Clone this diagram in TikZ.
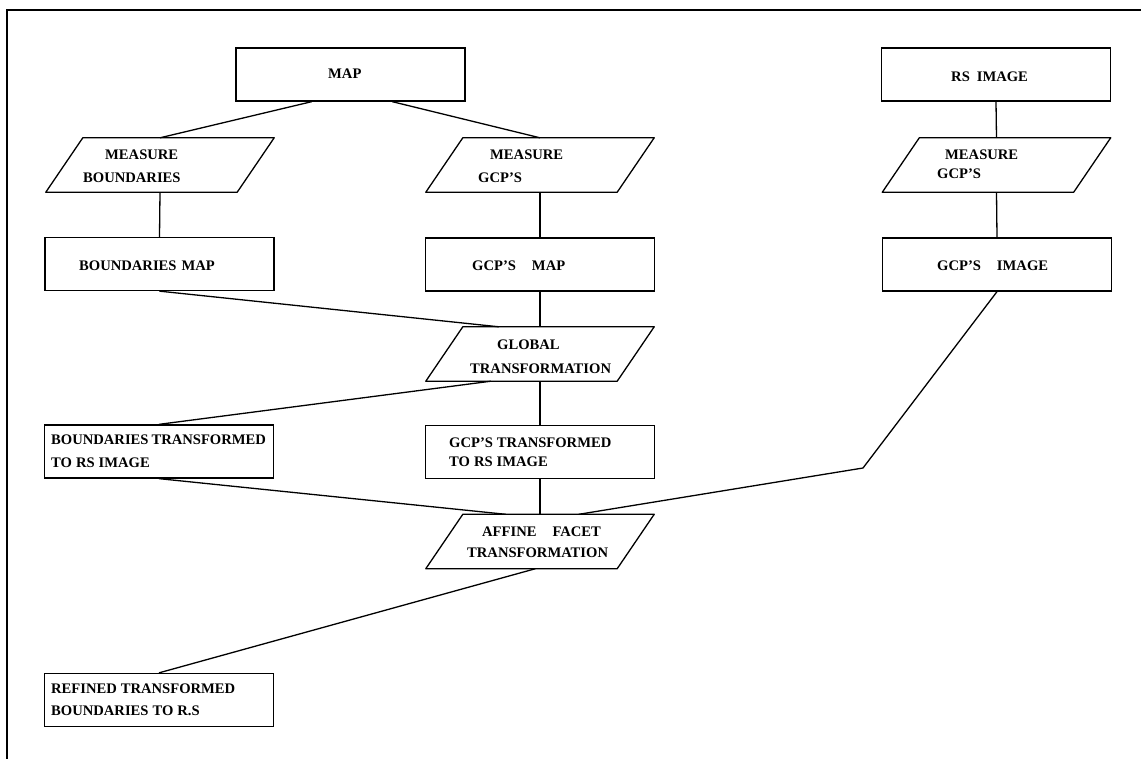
\documentclass[tikz,border=0pt]{standalone}
\usepackage{fontspec}
\setmainfont{Liberation Serif}
\usetikzlibrary{calc}
\tikzset{
  ln/.style={line width=1.3pt, line join=round},
  box/.style={draw, line width=1.3pt, minimum width=229pt, minimum height=53pt, inner sep=0pt},
  pbox/.style={minimum width=228pt, minimum height=54pt, inner sep=0pt},
  lbl/.style={anchor=west, inner sep=0pt, font=\fontsize{14.6}{16}\selectfont\bfseries},
  frameline/.style={line width=1.4pt}
}
\newcommand{\parashape}[1]{\draw[ln] (#1.south west) -- ([xshift=-37pt]#1.south east) -- (#1.north east) -- ([xshift=37pt]#1.north west) -- cycle;}
\begin{document}
\begin{tikzpicture}[x=1pt,y=-1pt]
\useasboundingbox (0,0) rectangle (1141,759);
\fill[white] (0,0) rectangle (1141,759);
\draw[frameline] (7,759) -- (7,10) -- (1141,10);

% boxes
\node[box] (map) at (350.5,74.5) {};
\node[box] (rs) at (996,74.5) {};
\node[box] (bm) at (159.5,264) {};
\node[box] (gm) at (540,264.5) {};
\node[box] (gi) at (997,264.5) {};
\node[box] (bt) at (159,451.5) {};
\node[box] (gt) at (540,452) {};
\node[box] (rtb) at (159,700) {};

% parallelograms
\node[pbox] (mb) at (160,165) {};
\node[pbox] (mg) at (540,165) {};
\node[pbox] (mgr) at (996.5,165) {};
\node[pbox] (glob) at (540,354) {};
\node[pbox] (aft) at (540,541.5) {};
\parashape{mb}
\parashape{mg}
\parashape{mgr}
\parashape{glob}
\parashape{aft}

% labels
\node[lbl] (tmap) at (328,74) {MAP};
\node[lbl] (trs) at (951,77) {RS\hspace{7pt}IMAGE};
\node[lbl] (tmb1) at (105,155) {MEASURE};
\node[lbl] (tmb2) at (83,178) {BOUNDARIES};
\node[lbl] (tmg1) at (490,155) {MEASURE};
\node[lbl] (tmg2) at (478,178) {GCP'S};
\node[lbl] (tmr1) at (945,155) {MEASURE};
\node[lbl] (tmr2) at (937,174) {GCP'S};
\node[lbl] (tbm) at (79,266) {BOUNDARIES\hspace{5pt}MAP};
\node[lbl] (tgm) at (472,266) {GCP'S\hspace{16pt}MAP};
\node[lbl] (tgi) at (937,266) {GCP'S\hspace{16pt}IMAGE};
\node[lbl] (tgl1) at (497,345) {GLOBAL};
\node[lbl] (tgl2) at (470,369) {TRANSFORMATION};
\node[lbl] (tbt1) at (51,440) {BOUNDARIES\hspace{3pt}TRANSFORMED};
\node[lbl] (tbt2) at (51,463) {TO\hspace{4pt}RS\hspace{4pt}IMAGE};
\node[lbl] (tgt1) at (449,443) {GCP'S\hspace{4pt}TRANSFORMED};
\node[lbl] (tgt2) at (449,462) {TO\hspace{4pt}RS\hspace{4pt}IMAGE};
\node[lbl] (taf1) at (482,532) {AFFINE\hspace{16pt}FACET};
\node[lbl] (taf2) at (467,553) {TRANSFORMATION};
\node[lbl] (trt1) at (51,689) {REFINED\hspace{4pt}TRANSFORMED};
\node[lbl] (trt2) at (51,711) {BOUNDARIES\hspace{4pt}TO\hspace{4pt}R.S};

% connectors
\draw[ln] ($(map.south west)!0.332!(map.south east)$) -- (mb.north);
\draw[ln] ($(map.south west)!0.681!(map.south east)$) -- (mg.north);
\draw[ln] (mb.south) -- (bm.north);
\draw[ln] (mg.south) -- (gm.north);
\draw[ln] (rs.south) -- (mgr.north);
\draw[ln] (mgr.south) -- (gi.north);
\draw[ln] (bm.south) -- ($(glob.north west)!0.32!(glob.north east)$);
\draw[ln] (gm.south) -- (glob.north);
\draw[ln] ($(glob.south west)!0.285!(glob.south east)$) -- (bt.north);
\draw[ln] (glob.south) -- (gt.north);
\draw[ln] (bt.south) -- ($(aft.north west)!0.35!(aft.north east)$);
\draw[ln] (gt.south) -- (aft.north);
\coordinate (bend) at (863,468);
\draw[ln] (gi.south) -- (bend) -- ($(aft.north west)!0.67!(aft.north east)$);
\draw[ln] ($(aft.south west)!0.48!(aft.south east)$) -- (rtb.north);
\end{tikzpicture}
\end{document}
